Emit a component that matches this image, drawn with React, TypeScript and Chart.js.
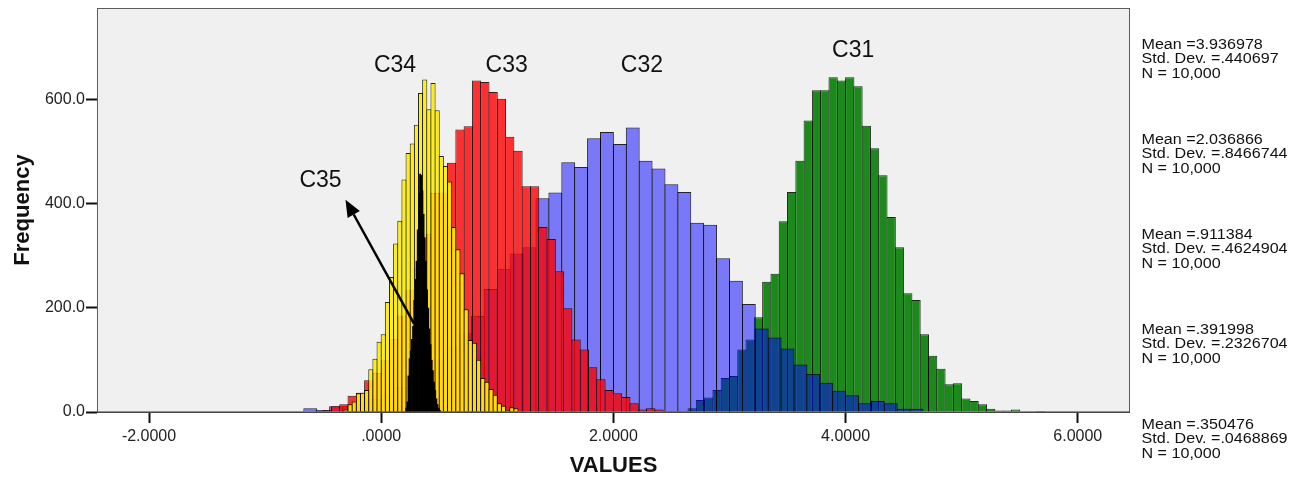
import React, { useEffect, useRef } from 'react';
import { Chart, registerables } from 'chart.js';

Chart.register(...registerables);

// ---------- axis ----------
const xTickValues = [-2, 0, 2, 4, 6];
const xTickLabels = ['-2.0000', '.0000', '2.0000', '4.0000', '6.0000'];
const yTickValues = [0, 200, 400, 600];
const yTickLabels = ['0.0', '200.0', '400.0', '600.0'];
const xMin = -2.448;
const xMax = 6.45;
const yMax = 775;

// ---------- histograms (bin start, bin width, counts) ----------
const c31Start = 4 - 20 / 14;
const c31Width = 1 / 14;
const c31Counts = [2, 7, 23, 28, 42, 65, 69, 120, 139, 182, 250, 265, 366, 422, 482, 559, 617, 617, 642, 636, 642, 625, 549, 506, 454, 374, 316, 228, 215, 149, 108, 83, 53, 55, 26, 21, 15, 6, 3, 3, 5, 1, 1, 2];

const c32Start = 2 - 24 / 9;
const c32Width = 1 / 9;
const c32Counts = [7, 4, 11, 12, 18, 25, 35, 48, 62, 80, 100, 125, 151, 184, 236, 275, 304, 316, 410, 421, 479, 470, 525, 537, 514, 546, 482, 467, 437, 422, 363, 359, 295, 252, 207, 160, 143, 122, 91, 73, 56, 41, 32, 17, 21, 17, 6, 6, 1, 1];

const c33Start = 1 - 22 / 14;
const c33Width = 1 / 14;
const c33Counts = [2, 4, 11, 15, 31, 37, 61, 75, 100, 140, 185, 235, 276, 342, 420, 421, 478, 542, 548, 636, 633, 614, 601, 528, 501, 433, 433, 355, 332, 270, 199, 139, 120, 86, 63, 42, 36, 29, 17, 5, 7, 5, 2, 2];

const c34Start = -10 / 28;
const c34Width = 1 / 28;
const c34Counts = [1, 5, 15, 20, 36, 37, 42, 82, 102, 135, 149, 211, 259, 323, 367, 446, 497, 515, 551, 612, 638, 581, 631, 579, 491, 472, 442, 355, 312, 266, 197, 138, 133, 100, 65, 58, 44, 33, 17, 12, 4, 9, 7];

const c35Start = 0.21;
const c35Width = 0.01;
const c35Counts = [8, 20, 70, 103, 118, 140, 165, 215, 255, 290, 350, 420, 457, 455, 425, 380, 335, 290, 235, 200, 160, 130, 100, 80, 58, 42, 26, 15, 8, 4];

// ---------- text ----------
const seriesNames = ['C31', 'C32', 'C33', 'C34', 'C35'];
const statMeans = ['3.936978', '2.036866', '.911384', '.391998', '.350476'];
const statStdDevs = ['.440697', '.8466744', '.4624904', '.2326704', '.0468869'];
const statNs = ['10,000', '10,000', '10,000', '10,000', '10,000'];
const labelXs = [4.065, 2.246, 1.081, 0.119, -0.523];
const labelYs = [694, 664, 664, 664, 444];
const arrowTail = { x: 0.2825, y: 169.6 };
const arrowTip = { x: -0.3075, y: 407.4 };

// ---------- layout ----------
const CHART_W = 1290;
const CHART_H = 471;
const PLOT_LEFT = 89;
const RIGHT_PAD = 168;
const X_AXIS_H = 67;
const FONT = "'Liberation Sans', Arial, sans-serif";
const pxPerUnit = (CHART_W - RIGHT_PAD - PLOT_LEFT) / (xMax - xMin);
const overlapPct = (w: number) => (w * pxPerUnit + 1) / (w * pxPerUnit);

const toPoints = (start: number, width: number, counts: number[]) =>
  counts.map((c, i) => ({ x: start + width * (i + 0.5), y: c }));

const hiddenX = () => ({
  type: 'linear' as const,
  display: false,
  min: xMin,
  max: xMax,
  offset: false,
});

const framePlugin = {
  id: 'spssFrame',
  beforeDatasetsDraw(chart: any) {
    const { ctx, chartArea: a } = chart;
    ctx.save();
    ctx.fillStyle = '#f0f0f0';
    ctx.fillRect(a.left, a.top, a.right - a.left, a.bottom - a.top);
    ctx.restore();
  },
  afterDatasetsDraw(chart: any) {
    const { ctx, chartArea: a, scales } = chart;
    const xs = scales.x;
    const ys = scales.y;
    ctx.save();
    ctx.strokeStyle = '#5c5c5c';
    ctx.lineWidth = 1;
    ctx.strokeRect(a.left + 0.5, a.top + 0.5, a.right - a.left - 1, a.bottom - a.top);
    ctx.strokeStyle = '#333';
    ctx.beginPath();
    ctx.moveTo(a.left, a.bottom);
    ctx.lineTo(a.right, a.bottom);
    ctx.stroke();

    // series labels
    ctx.fillStyle = '#111';
    ctx.font = `23px ${FONT}`;
    ctx.textAlign = 'center';
    ctx.textBaseline = 'middle';
    seriesNames.forEach((n, i) => {
      ctx.fillText(n, xs.getPixelForValue(labelXs[i]), ys.getPixelForValue(labelYs[i]));
    });

    // arrow
    const x1 = xs.getPixelForValue(arrowTail.x);
    const y1 = ys.getPixelForValue(arrowTail.y);
    const x2 = xs.getPixelForValue(arrowTip.x);
    const y2 = ys.getPixelForValue(arrowTip.y);
    const ang = Math.atan2(y2 - y1, x2 - x1);
    const headLen = 17;
    const headHalf = 7;
    const bx = x2 - headLen * Math.cos(ang);
    const by = y2 - headLen * Math.sin(ang);
    ctx.strokeStyle = '#000';
    ctx.lineWidth = 2.5;
    ctx.beginPath();
    ctx.moveTo(x1, y1);
    ctx.lineTo(bx, by);
    ctx.stroke();
    ctx.fillStyle = '#000';
    ctx.beginPath();
    ctx.moveTo(x2, y2);
    ctx.lineTo(bx + headHalf * Math.sin(ang), by - headHalf * Math.cos(ang));
    ctx.lineTo(bx - headHalf * Math.sin(ang), by + headHalf * Math.cos(ang));
    ctx.closePath();
    ctx.fill();

    // statistics blocks
    ctx.fillStyle = '#111';
    ctx.font = `14px ${FONT}`;
    ctx.textAlign = 'left';
    ctx.textBaseline = 'middle';
    statMeans.forEach((m, i) => {
      const lines = [`Mean =${m}`, `Std. Dev. =${statStdDevs[i]}`, `N = ${statNs[i]}`];
      lines.forEach((t, j) => {
        ctx.save();
        ctx.translate(a.right + 11.5, a.top + 37 + i * 95 + j * 14.5);
        ctx.scale(1.15, 1);
        ctx.fillText(t, 0, 0);
        ctx.restore();
      });
    });
    ctx.restore();
  },
};

export default function App() {
  const ref = useRef<HTMLCanvasElement | null>(null);

  useEffect(() => {
    if (!ref.current) return;
    const edge = 'rgba(0,0,0,0.85)';
    const chart = new Chart(ref.current, {
      type: 'bar',
      data: {
        datasets: [
          {
            label: 'C35',
            data: toPoints(c35Start, c35Width, c35Counts),
            xAxisID: 'x35',
            backgroundColor: '#000',
            borderWidth: 0,
            grouped: false,
            barPercentage: 1.6,
            categoryPercentage: 1,
          },
          {
            label: 'C34',
            data: toPoints(c34Start, c34Width, c34Counts),
            xAxisID: 'x34',
            backgroundColor: 'rgba(255,238,0,0.92)',
            borderColor: edge,
            borderWidth: 1,
            grouped: false,
            barPercentage: overlapPct(c34Width),
            categoryPercentage: 1,
          },
          {
            label: 'C33',
            data: toPoints(c33Start, c33Width, c33Counts),
            xAxisID: 'x33',
            backgroundColor: 'rgba(255,0,0,0.8)',
            borderColor: edge,
            borderWidth: 1,
            grouped: false,
            barPercentage: overlapPct(c33Width),
            categoryPercentage: 1,
          },
          {
            label: 'C32',
            data: toPoints(c32Start, c32Width, c32Counts),
            xAxisID: 'x32',
            backgroundColor: 'rgba(0,0,255,0.5)',
            borderColor: edge,
            borderWidth: 1,
            grouped: false,
            barPercentage: overlapPct(c32Width),
            categoryPercentage: 1,
          },
          {
            label: 'C31',
            data: toPoints(c31Start, c31Width, c31Counts),
            xAxisID: 'x',
            backgroundColor: 'rgb(27,138,27)',
            borderColor: edge,
            borderWidth: 1,
            grouped: false,
            barPercentage: overlapPct(c31Width),
            categoryPercentage: 1,
          },
        ] as any,
      },
      options: {
        animation: false,
        responsive: false,
        devicePixelRatio: 1,
        layout: { padding: { left: 0, right: RIGHT_PAD, top: 0, bottom: 0 } },
        plugins: { legend: { display: false }, tooltip: { enabled: false } },
        scales: {
          x: {
            type: 'linear',
            min: xMin,
            max: xMax,
            offset: false,
            afterBuildTicks: (s: any) => {
              s.ticks = xTickValues.map((v) => ({ value: v }));
            },
            afterFit: (s: any) => {
              s.height = X_AXIS_H;
              s.paddingLeft = 0;
              s.paddingRight = 0;
            },
            ticks: {
              callback: (v: any) => xTickLabels[xTickValues.indexOf(Number(v))],
              font: { family: FONT, size: 16 },
              color: '#222',
              padding: 4,
              maxRotation: 0,
              autoSkip: false,
            },
            grid: {
              display: true,
              drawOnChartArea: false,
              drawTicks: true,
              tickLength: 11,
              tickWidth: 2,
              tickColor: '#111',
              offset: false,
            },
            border: { display: false },
            title: {
              display: true,
              text: 'VALUES',
              color: '#111',
              font: { family: FONT, size: 22, weight: 'bold', lineHeight: 1 },
              padding: { top: 0, bottom: 2 },
            },
          },
          x32: hiddenX(),
          x33: hiddenX(),
          x34: hiddenX(),
          x35: hiddenX(),
          y: {
            type: 'linear',
            min: 0,
            max: yMax,
            afterBuildTicks: (s: any) => {
              s.ticks = yTickValues.map((v) => ({ value: v }));
            },
            afterFit: (s: any) => {
              s.width = PLOT_LEFT;
              s.paddingTop = 0;
              s.paddingBottom = 0;
            },
            ticks: {
              callback: (v: any) => yTickLabels[yTickValues.indexOf(Number(v))],
              font: { family: FONT, size: 16 },
              color: '#222',
              padding: 1,
            },
            grid: {
              display: true,
              drawOnChartArea: false,
              drawTicks: true,
              tickLength: 11,
              tickWidth: 2,
              tickColor: '#111',
            },
            border: { display: false },
            title: {
              display: true,
              text: 'Frequency',
              color: '#111',
              font: { family: FONT, size: 22, weight: 'bold', lineHeight: 1 },
              padding: { top: 3.5, bottom: 0 },
            },
          },
        },
      } as any,
      plugins: [framePlugin],
    });
    return () => chart.destroy();
  }, []);

  return (
    <div style={{ width: CHART_W, height: CHART_H }}>
      <canvas ref={ref} width={CHART_W} height={CHART_H} style={{ display: 'block' }} />
    </div>
  );
}
